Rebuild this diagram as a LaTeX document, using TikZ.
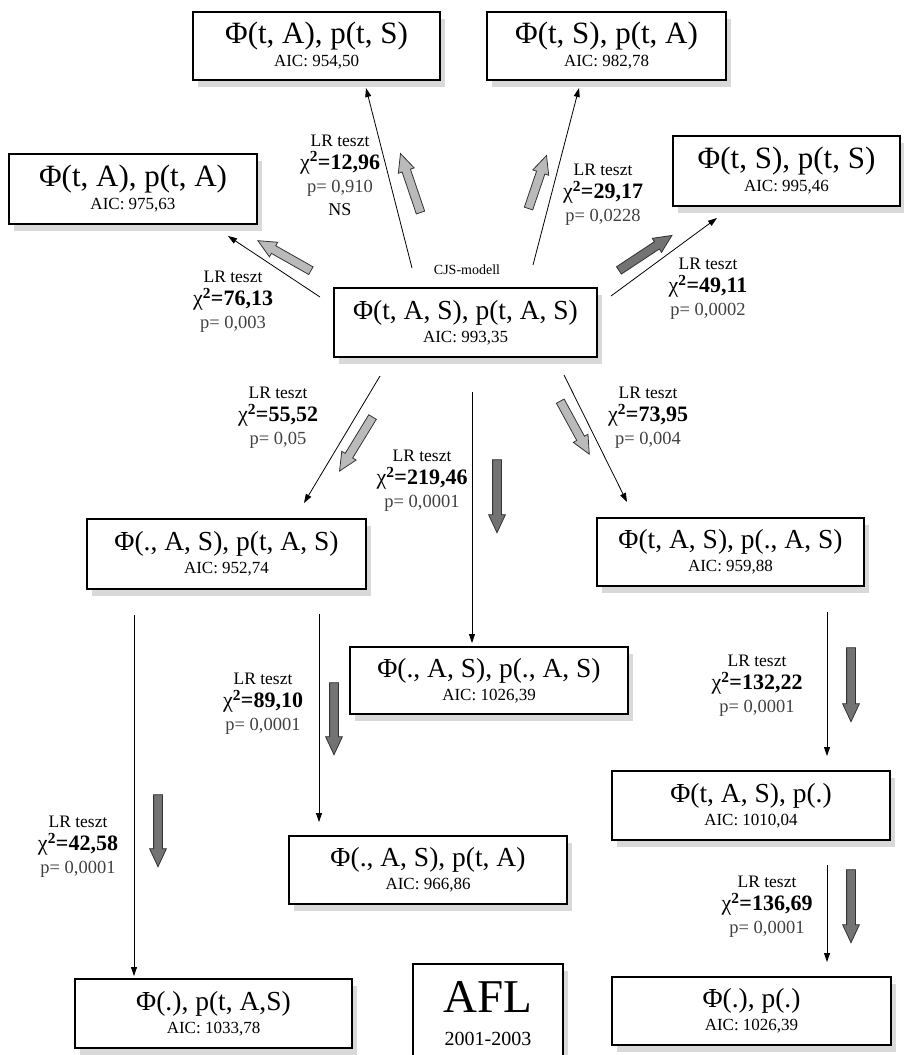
\documentclass[tikz,border=0pt]{standalone}
\usepackage{fontspec}
\setmainfont{Liberation Serif}
\usetikzlibrary{arrows.meta, shapes.arrows, shadows, calc}

\colorlet{lightarr}{black!27}
\colorlet{darkarr}{black!55}

\newcommand{\fml}{\fontsize{31}{33}\selectfont}
\newcommand{\fmls}{\fontsize{27.5}{30}\selectfont}
\newcommand{\aicfont}{\fontsize{17}{19}\selectfont}
\newcommand{\chifont}{\fontsize{22}{23}\selectfont}
\newcommand{\pfont}{\fontsize{18.5}{23}\selectfont\color{black!75}}

\tikzset{
  model/.style={draw, line width=1.1pt, fill=white, align=center, inner sep=0pt,
    font=\aicfont,
    drop shadow={shadow xshift=5pt, shadow yshift=-7pt, fill=black!25, opacity=0.6}},
  lrlab/.style={align=center, inner sep=0pt, font=\fontsize{17.5}{23}\selectfont},
  link/.style={line width=0.8pt, -{Triangle[length=9pt, width=6pt]}},
  bigarr/.style={single arrow, draw=black!80, line width=0.8pt, inner xsep=0pt,
    inner ysep=4pt, single arrow head extend=4pt, single arrow tip angle=50},
}

\begin{document}
\begin{tikzpicture}[x=1pt, y=-1pt]
    \useasboundingbox (0,0) rectangle (903,1055);
    % Models
    \node[model, minimum width=247, minimum height=68] (tAtS) at (316.5,46)
        {{\fml Φ(t, A), p(t, S)}\\[4pt]AIC: 954,50};
    \node[model, minimum width=239, minimum height=68] (tStA) at (606.5,46)
        {{\fml Φ(t, S), p(t, A)}\\[4pt]AIC: 982,78};
    \node[model, minimum width=248, minimum height=70] (tAtA) at (133,189)
        {{\fml Φ(t, A), p(t, A)}\\[4pt]AIC: 975,63};
    \node[model, minimum width=227, minimum height=70] (tStS) at (786.5,171)
        {{\fml Φ(t, S), p(t, S)}\\[4pt]AIC: 995,46};
    \node[model, minimum width=263, minimum height=69] (full) at (465.5,322.5)
        {{\fmls Φ(t, A, S), p(t, A, S)}\\[4pt]AIC: 993,35};
    \node[font=\fontsize{14}{16}\selectfont] (cjs) at (467,270) {CJS-modell};
    \node[model, minimum width=279, minimum height=70] (dAStAS) at (226.5,554)
        {{\fmls Φ(., A, S), p(t, A, S)}\\[4pt]AIC: 952,74};
    \node[model, minimum width=267, minimum height=68] (tASdAS) at (730.5,552)
        {{\fmls Φ(t, A, S), p(., A, S)}\\[4pt]AIC: 959,88};
    \node[model, minimum width=278, minimum height=67] (dASdAS) at (489,680.5)
        {{\fmls Φ(., A, S), p(., A, S)}\\[4pt]AIC: 1026,39};
    \node[model, minimum width=278, minimum height=68] (dAStA) at (428,870)
        {{\fmls Φ(., A, S), p(t, A)}\\[4pt]AIC: 966,86};
    \node[model, minimum width=278, minimum height=69] (tASd) at (751,805.5)
        {{\fmls Φ(t, A, S), p(.)}\\[4pt]AIC: 1010,04};
    \node[model, minimum width=277, minimum height=69] (dtAS) at (213.5,1013.5)
        {{\fmls Φ(.), p(t, A,S)}\\[4pt]AIC: 1033,78};
    \node[model, minimum width=279, minimum height=68] (dd) at (751.5,1011)
        {{\fmls Φ(.), p(.)}\\[4pt]AIC: 1026,39};
    \node[model, minimum width=150, minimum height=100] (afl) at (488,1014)
        {{\fontsize{47}{50}\selectfont AFL}\\[14pt]{\fontsize{20}{24}\selectfont 2001-2003}};
    % Test labels
    \node[lrlab] (lr1) at (340,175) {LR teszt\\{\chifont χ\textsuperscript{\textbf{2}}\textbf{=12,96}}\\{\pfont p= 0,910}\\{\fontsize{18}{23}\selectfont NS}};
    \node[lrlab] (lr2) at (603,195) {LR teszt\\{\chifont χ\textsuperscript{\textbf{2}}\textbf{=29,17}}\\{\pfont p= 0,0228}};
    \node[lrlab] (lr3) at (233,302) {LR teszt\\{\chifont χ\textsuperscript{\textbf{2}}\textbf{=76,13}}\\{\pfont p= 0,003}};
    \node[lrlab] (lr4) at (708,289) {LR teszt\\{\chifont χ\textsuperscript{\textbf{2}}\textbf{=49,11}}\\{\pfont p= 0,0002}};
    \node[lrlab] (lr5) at (278,418) {LR teszt\\{\chifont χ\textsuperscript{\textbf{2}}\textbf{=55,52}}\\{\pfont p= 0,05}};
    \node[lrlab] (lr6) at (422,481) {LR teszt\\{\chifont χ\textsuperscript{\textbf{2}}\textbf{=219,46}}\\{\pfont p= 0,0001}};
    \node[lrlab] (lr7) at (648,418) {LR teszt\\{\chifont χ\textsuperscript{\textbf{2}}\textbf{=73,95}}\\{\pfont p= 0,004}};
    \node[lrlab] (lr8) at (263,704) {LR teszt\\{\chifont χ\textsuperscript{\textbf{2}}\textbf{=89,10}}\\{\pfont p= 0,0001}};
    \node[lrlab] (lr9) at (78,847) {LR teszt\\{\chifont χ\textsuperscript{\textbf{2}}\textbf{=42,58}}\\{\pfont p= 0,0001}};
    \node[lrlab] (lr10) at (757,686) {LR teszt\\{\chifont χ\textsuperscript{\textbf{2}}\textbf{=132,22}}\\{\pfont p= 0,0001}};
    \node[lrlab] (lr11) at (767,907) {LR teszt\\{\chifont χ\textsuperscript{\textbf{2}}\textbf{=136,69}}\\{\pfont p= 0,0001}};
    % Connector ends
    \foreach \nm/\px/\py in {s1/412/268, e1/366/88, s2/533/265, e2/579/88,
        s3/320/297, e3/228/236, s4/611/296, e4/717/218, s5/380/376, e5/304/503,
        s6/472/392, e6/472/643, s7/564/375, e7/627/502, s8/134/615, e8/134/976,
        s9/319/614, e9/319/822, s10/827/612, e10/827/756, s11/827/865, e11/827/962}
        \coordinate (\nm) at (\px,\py);
    \foreach \k in {1,...,11}
        \draw[link] (s\k) -- (e\k);
    % Thick direction arrows
    \foreach \ax/\ay/\bx/\by/\tone [count=\i] in {422/217/402/158/lightarr,
        527/213/545/160/lightarr, 315/273/262/243/lightarr, 615/273/668/238/darkarr,
        375/413/342/467/lightarr, 497/455/497/528/darkarr, 558/397/587/450/lightarr,
        158/790/158/862/darkarr, 334/678/334/750/darkarr, 851/643/851/717/darkarr,
        851/865/851/938/darkarr}
        \path let \p1=(\ax,\ay), \p2=(\bx,\by),
            \n1={atan2(\y2-\y1,\x2-\x1)}, \n2={veclen(\x2-\x1,\y2-\y1)} in
            node[bigarr, fill=\tone, rotate=\n1, minimum height=\n2] (ba\i)
            at ({(\x1+\x2)/2},{(\y1+\y2)/2}) {};
\end{tikzpicture}
\end{document}
